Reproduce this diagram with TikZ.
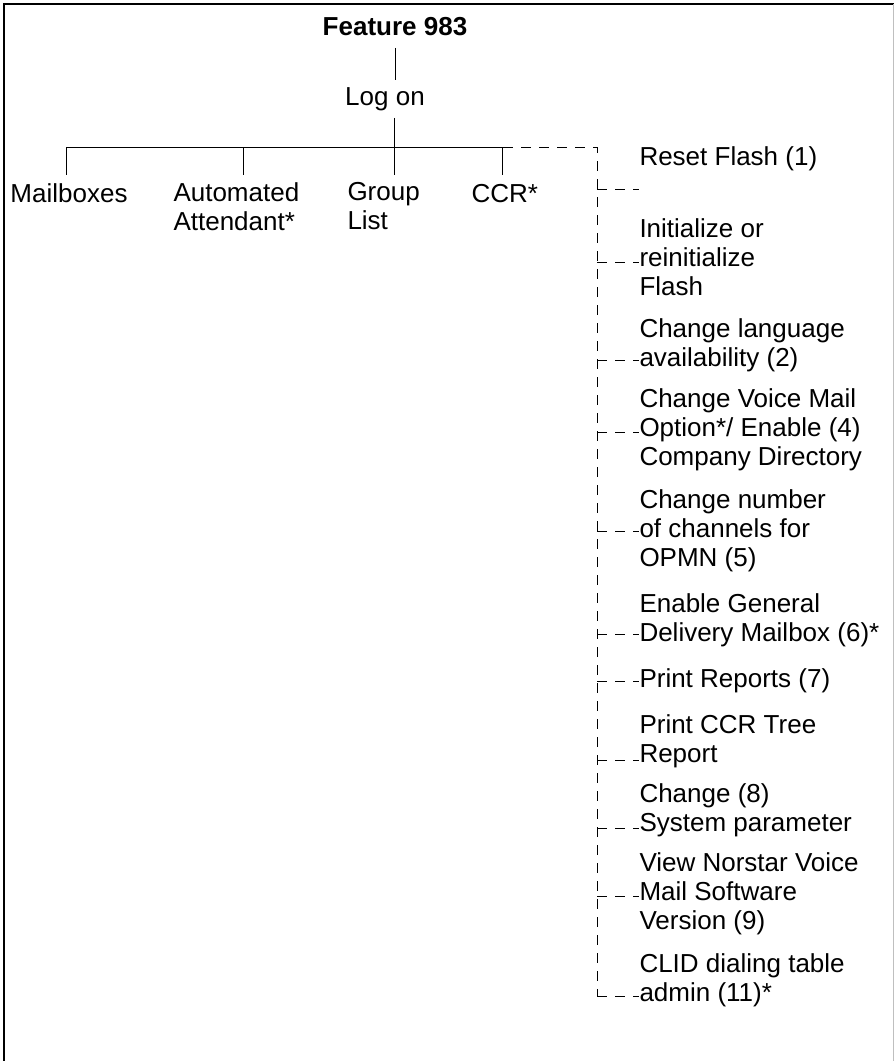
\documentclass[tikz,border=0pt]{standalone}
\usepackage{fontspec}
\setmainfont{Liberation Sans}
\newcommand\lblfont{\fontsize{13}{14.5}\selectfont}
\begin{document}
\begin{tikzpicture}[x=0.5pt,y=-0.5pt,line width=0.5pt]
\tikzstyle{every node}+=[inner sep=0pt]
\tikzstyle{lbl}=[anchor=north west,align=left,font=\lblfont,execute at begin node=\strut,execute at end node=\strut]
\tikzstyle{dsh}=[dash pattern=on 5pt off 4pt]
\tikzstyle{drop}=[shorten >=3.5pt]
\useasboundingbox (0,0) rectangle (894,1061);
\draw [black,line width=1.1pt] (4,1061) -- (4,4) -- (894,4);
\draw [black!25] (893,4) -- (893,1061);
% root
\node [anchor=base,font=\lblfont\bfseries,inner ysep=6pt] (feat) at (395,35) {Feature 983};
\node [anchor=base,font=\lblfont,inner ysep=3.5pt] (logon) at (385,105) {Log on};
% first level
\node [lbl] (mail) at (10,182) {Mailboxes};
\node [lbl] (aa) at (173,182) {Automated\\Attendant*};
\node [lbl] (grp) at (347,182) {Group\\List};
\node [lbl] (ccr) at (471,182) {CCR*};
\coordinate (b1) at (66,147);
\coordinate (b2) at (243,147);
\coordinate (b3) at (394,147);
\coordinate (b4) at (502,147);
\coordinate (j4) at (503,147);
\coordinate (tk) at (597,147);
% CCR admin menu
\node [lbl] (reset) at (639,145) {Reset Flash (1)};
\node [lbl] (init) at (639,218) {Initialize or\\reinitialize\\Flash};
\node [lbl] (lang) at (639,318) {Change language\\availability (2)};
\node [lbl] (vmo) at (639,388) {Change Voice Mail\\Option*/ Enable (4)\\Company Directory};
\node [lbl] (chan) at (639,489) {Change number\\of channels for\\OPMN (5)};
\node [lbl] (gdm) at (639,593) {Enable General\\Delivery Mailbox (6)*};
\node [lbl] (prep) at (639,667) {Print Reports (7)};
\node [lbl] (ccrt) at (639,714) {Print CCR Tree\\Report};
\node [lbl] (sysp) at (639,783) {Change (8)\\System parameter};
\node [lbl] (ver) at (639,852) {View Norstar Voice\\Mail Software\\Version (9)};
\node [lbl] (clid) at (639,953) {CLID dialing table\\admin (11)*};
\coordinate (t1) at (597,189);
\coordinate (t2) at (597,262);
\coordinate (t3) at (597,360);
\coordinate (t4) at (597,432);
\coordinate (t5) at (597,531);
\coordinate (t6) at (597,634);
\coordinate (t7) at (597,681);
\coordinate (t8) at (597,760);
\coordinate (t9) at (597,828);
\coordinate (t10) at (597,896);
\coordinate (t11) at (597,996);
% tree
\draw [black] (feat.south) -- (feat.south |- logon.north);
\draw [black] (logon.south -| b3) -- (b3);
\draw [black] (b1) -- (j4);
\draw [black,drop] (b1) -- (b1 |- mail.north);
\draw [black,drop] (b2) -- (b2 |- aa.north);
\draw [black,drop] (b3) -- (b3 |- grp.north);
\draw [black,drop] (b4) -- (b4 |- ccr.north);
\draw [black,dsh] (j4) -- (tk) -- (t11);
\draw [black,dsh] (t1) -- (t1 -| reset.west);
\draw [black,dsh] (t2) -- (t2 -| init.west);
\draw [black,dsh] (t3) -- (t3 -| lang.west);
\draw [black,dsh] (t4) -- (t4 -| vmo.west);
\draw [black,dsh] (t5) -- (t5 -| chan.west);
\draw [black,dsh] (t6) -- (t6 -| gdm.west);
\draw [black,dsh] (t7) -- (t7 -| prep.west);
\draw [black,dsh] (t8) -- (t8 -| ccrt.west);
\draw [black,dsh] (t9) -- (t9 -| sysp.west);
\draw [black,dsh] (t10) -- (t10 -| ver.west);
\draw [black,dsh] (t11) -- (t11 -| clid.west);
\end{tikzpicture}
\end{document}
